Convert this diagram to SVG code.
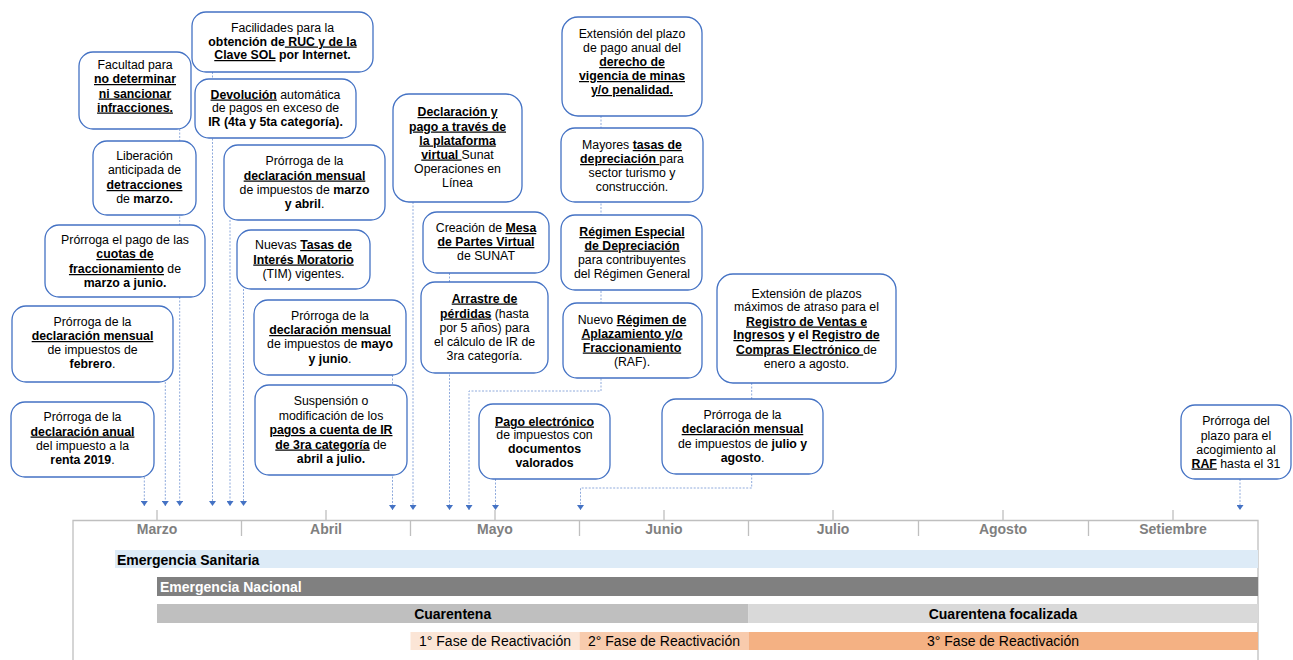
<svg xmlns="http://www.w3.org/2000/svg" width="1293" height="660" viewBox="0 0 1293 660">
<style>
.n{fill:#fff;stroke:#4472c4;stroke-width:1.3}
.t{font-family:"Liberation Sans",Arial,sans-serif;font-size:12.3px;text-anchor:middle;fill:#000}
.b{font-weight:bold}
.u{font-weight:bold;text-decoration:underline}
.c{fill:none;stroke:#8faadc;stroke-width:1;stroke-dasharray:2 1.5}
.ax{fill:none;stroke:#bfbfbf;stroke-width:1.3}
.m{font-family:"Liberation Sans",Arial,sans-serif;font-size:14px;font-weight:bold;fill:#7f7f7f;text-anchor:middle}
.bl{font-family:"Liberation Sans",Arial,sans-serif;font-size:14px;fill:#000}
</style>
<defs>
<marker id="ah" viewBox="0 0 5 7" refX="5" refY="3.5" markerWidth="5" markerHeight="7" markerUnits="userSpaceOnUse" orient="auto">
<path d="M0,0 L5,3.5 L0,7 z" fill="#4472c4"/>
</marker>
</defs>
<rect width="1293" height="660" fill="#fff"/>

<g id="timeline">
<path class="ax" d="M73,660 V520.5 H1258 V660"/>
<path class="ax" d="M157,510 V520.5 M326,510 V520.5 M495,510 V520.5 M664,510 V520.5 M833,510 V520.5 M1003,510 V520.5 M1173,510 V520.5"/>
<path class="ax" d="M241.5,520.5 V536 M410.5,520.5 V536 M579.5,520.5 V536 M748.5,520.5 V536 M918.5,520.5 V536 M1088.5,520.5 V536"/>
<text class="m" x="157" y="534">Marzo</text>
<text class="m" x="326" y="534">Abril</text>
<text class="m" x="495" y="534">Mayo</text>
<text class="m" x="664" y="534">Junio</text>
<text class="m" x="833" y="534">Julio</text>
<text class="m" x="1003" y="534">Agosto</text>
<text class="m" x="1173" y="534">Setiembre</text>
<rect x="115" y="550" width="1143" height="18" fill="#ddebf7"/>
<text class="bl b" x="117" y="565">Emergencia Sanitaria</text>
<rect x="157" y="577" width="1101" height="19" fill="#808080"/>
<text class="bl b" x="160" y="592" fill="#fff" style="fill:#fff">Emergencia Nacional</text>
<rect x="157" y="604" width="591.5" height="19" fill="#bfbfbf"/>
<text class="bl b" x="452.7" y="619" text-anchor="middle">Cuarentena</text>
<rect x="748.5" y="604" width="509.5" height="19" fill="#d9d9d9"/>
<text class="bl b" x="1003" y="619" text-anchor="middle">Cuarentena focalizada</text>
<rect x="410.5" y="632" width="169" height="18" fill="#fbe5d6"/>
<text class="bl" x="495" y="646" text-anchor="middle">1° Fase de Reactivación</text>
<rect x="579.5" y="632" width="169" height="18" fill="#f8cbad"/>
<text class="bl" x="664" y="646" text-anchor="middle">2° Fase de Reactivación</text>
<rect x="748.5" y="632" width="509.5" height="18" fill="#f4b183"/>
<text class="bl" x="1003" y="646" text-anchor="middle">3° Fase de Reactivación</text>
</g>

<g id="connectors">
<path class="c" d="M179.7,129 V506" marker-end="url(#ah)"/>
<path class="c" d="M165.3,382 V506" marker-end="url(#ah)"/>
<path class="c" d="M144.3,477 V506" marker-end="url(#ah)"/>
<path class="c" d="M212.5,72 V506" marker-end="url(#ah)"/>
<path class="c" d="M230,220 V506" marker-end="url(#ah)"/>
<path class="c" d="M243.5,289 V506" marker-end="url(#ah)"/>
<path class="c" d="M392.5,375 V510" marker-end="url(#ah)"/>
<path class="c" d="M413,202 V510" marker-end="url(#ah)"/>
<path class="c" d="M449.5,273 V510" marker-end="url(#ah)"/>
<path class="c" d="M601,116 V391 H469 V510" marker-end="url(#ah)"/>
<path class="c" d="M495.5,479 V510" marker-end="url(#ah)"/>
<path class="c" d="M751.7,383 V488 H580.5 V510" marker-end="url(#ah)"/>
<path class="c" d="M1240,479 V510" marker-end="url(#ah)"/>
</g>

<g id="n-facultad">
<rect class="n" x="79" y="52" width="112" height="77" rx="14"/>
<text class="t"><tspan x="135" y="69">Facultad para</tspan><tspan x="135" y="83" class="u">no determinar</tspan><tspan x="135" y="97.5" class="u">ni sancionar</tspan><tspan x="135" y="111.5" class="u">infracciones.</tspan></text>
</g>
<g id="n-liberacion">
<rect class="n" x="93" y="141" width="103" height="74" rx="14"/>
<text class="t"><tspan x="144.5" y="160">Liberación</tspan><tspan x="144.5" y="174">anticipada de</tspan><tspan x="144.5" y="189" class="u">detracciones</tspan><tspan x="144.5" y="203">de </tspan><tspan class="b">marzo.</tspan></text>
</g>
<g id="n-cuotas">
<rect class="n" x="45" y="225" width="160" height="72" rx="14"/>
<text class="t"><tspan x="125" y="244">Prórroga el pago de las</tspan><tspan x="125" y="258" class="u">cuotas de</tspan><tspan x="125" y="273" class="u">fraccionamiento</tspan><tspan> de</tspan><tspan x="125" y="287" class="b">marzo a junio.</tspan></text>
</g>
<g id="n-febrero">
<rect class="n" x="12" y="306" width="161" height="76" rx="14"/>
<text class="t"><tspan x="92.5" y="326">Prórroga de la</tspan><tspan x="92.5" y="340" class="u">declaración mensual</tspan><tspan x="92.5" y="354">de impuestos de</tspan><tspan x="92.5" y="368" class="b">febrero</tspan><tspan>.</tspan></text>
</g>
<g id="n-anual">
<rect class="n" x="11" y="402" width="143" height="75" rx="14"/>
<text class="t"><tspan x="82.5" y="421">Prórroga de la</tspan><tspan x="82.5" y="435.5" class="u">declaración anual</tspan><tspan x="82.5" y="450">del impuesto a la</tspan><tspan x="82.5" y="463.5" class="b">renta 2019</tspan><tspan>.</tspan></text>
</g>
<g id="n-facilidades">
<rect class="n" x="192" y="12" width="181" height="60" rx="14"/>
<text class="t"><tspan x="282.5" y="32">Facilidades para la</tspan><tspan x="282.5" y="45.5" class="b">obtención de</tspan><tspan class="u"> RUC y de la</tspan><tspan x="282.5" y="59" class="u">Clave SOL</tspan><tspan class="b"> por Internet.</tspan></text>
</g>
<g id="n-devolucion">
<rect class="n" x="195" y="79" width="161" height="59" rx="14"/>
<text class="t"><tspan x="275.5" y="98.5" class="u">Devolución</tspan><tspan> automática</tspan><tspan x="275.5" y="112">de pagos en exceso de</tspan><tspan x="275.5" y="126" class="b">IR (4ta y 5ta categoría).</tspan></text>
</g>
<g id="n-marzo-abril">
<rect class="n" x="224" y="145" width="161" height="75" rx="14"/>
<text class="t"><tspan x="304.5" y="165">Prórroga de la</tspan><tspan x="304.5" y="179.5" class="u">declaración mensual</tspan><tspan x="304.5" y="193.5">de impuestos de </tspan><tspan class="b">marzo</tspan><tspan x="304.5" y="207.5" class="b">y abril</tspan><tspan>.</tspan></text>
</g>
<g id="n-tim">
<rect class="n" x="237" y="230" width="133" height="59" rx="14"/>
<text class="t"><tspan x="303.5" y="249">Nuevas </tspan><tspan class="u">Tasas de</tspan><tspan x="303.5" y="263.5" class="u">Interés Moratorio</tspan><tspan x="303.5" y="278">(TIM) vigentes.</tspan></text>
</g>
<g id="n-mayo-junio">
<rect class="n" x="254" y="300" width="152" height="75" rx="14"/>
<text class="t"><tspan x="330" y="320">Prórroga de la</tspan><tspan x="330" y="334" class="u">declaración mensual</tspan><tspan x="330" y="348">de impuestos de </tspan><tspan class="b">mayo</tspan><tspan x="330" y="362.5" class="b">y junio</tspan><tspan>.</tspan></text>
</g>
<g id="n-suspension">
<rect class="n" x="255" y="385" width="152" height="90" rx="14"/>
<text class="t"><tspan x="331" y="405">Suspensión o</tspan><tspan x="331" y="419.5">modificación de los</tspan><tspan x="331" y="434" class="u">pagos a cuenta de IR</tspan><tspan x="331" y="448.5" class="u">de 3ra categoría</tspan><tspan> de</tspan><tspan x="331" y="463" class="b">abril a julio.</tspan></text>
</g>
<g id="n-declaracion-pago">
<rect class="n" x="393" y="94" width="129" height="108" rx="16"/>
<text class="t"><tspan x="457.5" y="116" class="u">Declaración y</tspan><tspan x="457.5" y="130.5" class="u">pago a través de</tspan><tspan x="457.5" y="144.5" class="u">la plataforma</tspan><tspan x="457.5" y="158.5" class="u">virtual </tspan><tspan>Sunat</tspan><tspan x="457.5" y="172.5">Operaciones en</tspan><tspan x="457.5" y="187">Línea</tspan></text>
</g>
<g id="n-mesa-partes">
<rect class="n" x="423" y="212" width="126" height="61" rx="14"/>
<text class="t"><tspan x="486" y="232">Creación de </tspan><tspan class="u">Mesa</tspan><tspan x="486" y="246" class="u">de Partes Virtual</tspan><tspan x="486" y="260">de SUNAT</tspan></text>
</g>
<g id="n-arrastre">
<rect class="n" x="421" y="282" width="127" height="91" rx="14"/>
<text class="t"><tspan x="484.5" y="302.5" class="u">Arrastre de</tspan><tspan x="484.5" y="317.5" class="u">pérdidas</tspan><tspan> (hasta</tspan><tspan x="484.5" y="331.5">por 5 años) para</tspan><tspan x="484.5" y="345.5">el cálculo de IR de</tspan><tspan x="484.5" y="359.5">3ra categoría.</tspan></text>
</g>
<g id="n-minas">
<rect class="n" x="562" y="17" width="140" height="99" rx="16"/>
<text class="t"><tspan x="632" y="38">Extensión del plazo</tspan><tspan x="632" y="52">de pago anual del</tspan><tspan x="632" y="66" class="u">derecho de</tspan><tspan x="632" y="80" class="u">vigencia de minas</tspan><tspan x="632" y="94" class="u">y/o penalidad.</tspan></text>
</g>
<g id="n-tasas">
<rect class="n" x="561" y="128" width="142" height="74" rx="14"/>
<text class="t"><tspan x="632" y="149">Mayores </tspan><tspan class="u">tasas de</tspan><tspan x="632" y="163" class="u">depreciación </tspan><tspan>para</tspan><tspan x="632" y="177">sector turismo y</tspan><tspan x="632" y="191">construcción.</tspan></text>
</g>
<g id="n-especial">
<rect class="n" x="561" y="215" width="141" height="75" rx="14"/>
<text class="t"><tspan x="632" y="236" class="u">Régimen Especial</tspan><tspan x="632" y="249.5" class="u">de Depreciación</tspan><tspan x="632" y="263.5">para contribuyentes</tspan><tspan x="632" y="277.5">del Régimen General</tspan></text>
</g>
<g id="n-raf">
<rect class="n" x="563" y="303" width="139" height="75" rx="14"/>
<text class="t"><tspan x="632" y="324">Nuevo </tspan><tspan class="u">Régimen de</tspan><tspan x="632" y="337.5" class="u">Aplazamiento y/o</tspan><tspan x="632" y="351.5" class="u">Fraccionamiento</tspan><tspan x="632" y="366">(RAF).</tspan></text>
</g>
<g id="n-registros">
<rect class="n" x="717" y="274" width="179" height="109" rx="16"/>
<text class="t"><tspan x="806.5" y="297.5">Extensión de plazos</tspan><tspan x="806.5" y="311">máximos de atraso para el</tspan><tspan x="806.5" y="325.5" class="u">Registro de Ventas e</tspan><tspan x="806.5" y="339" class="u">Ingresos</tspan><tspan class="b"> y el </tspan><tspan class="u">Registro de</tspan><tspan x="806.5" y="353.5" class="u">Compras Electrónico </tspan><tspan>de</tspan><tspan x="806.5" y="367.5">enero a agosto.</tspan></text>
</g>
<g id="n-julio-agosto">
<rect class="n" x="662" y="399" width="161" height="75" rx="14"/>
<text class="t"><tspan x="742.5" y="418.5">Prórroga de la</tspan><tspan x="742.5" y="433" class="u">declaración mensual</tspan><tspan x="742.5" y="447.5">de impuestos de </tspan><tspan class="b">julio y</tspan><tspan x="742.5" y="461.5" class="b">agosto</tspan><tspan>.</tspan></text>
</g>
<g id="n-pago-electronico">
<rect class="n" x="479" y="404" width="131" height="75" rx="14"/>
<text class="t"><tspan x="544.5" y="425.5" class="u">Pago electrónico</tspan><tspan x="544.5" y="439">de impuestos con</tspan><tspan x="544.5" y="453" class="b">documentos</tspan><tspan x="544.5" y="466.5" class="b">valorados</tspan></text>
</g>
<g id="n-raf-plazo">
<rect class="n" x="1181" y="405" width="110" height="74" rx="14"/>
<text class="t"><tspan x="1236" y="425">Prórroga del</tspan><tspan x="1236" y="439.5">plazo para el</tspan><tspan x="1236" y="453.5">acogimiento al</tspan><tspan x="1236" y="467.5" class="u">RAF</tspan><tspan> hasta el 31</tspan></text>
</g>
</svg>
